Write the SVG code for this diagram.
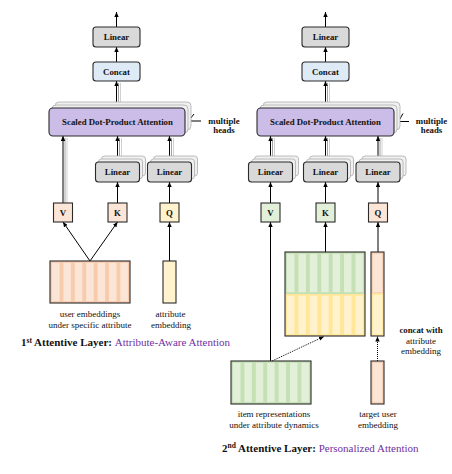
<svg xmlns="http://www.w3.org/2000/svg" width="452" height="474" viewBox="0 0 452 474" font-family="'Liberation Serif', 'Times New Roman', 'DejaVu Serif', serif">
<defs>
<marker id="ah" markerUnits="userSpaceOnUse" markerWidth="5" markerHeight="4.4" viewBox="0 0 5 4.4" refX="5" refY="2.2" orient="auto"><path d="M0,0 L5,2.2 L0,4.4 z" fill="#000"/></marker>
<style>
text{font-family:'Liberation Serif','Times New Roman','DejaVu Serif',serif;fill:#111}
.b{font-weight:bold;font-size:8.8px;text-anchor:middle}
.s{font-size:9px;text-anchor:middle}
.cap{font-size:11px;font-weight:bold}
.pur{fill:#7030a0;font-weight:normal}
.box{stroke:#2b2b2b;stroke-width:1.1}
.lin{fill:#d9d9d9}
.con{fill:#deebf7}
.att{fill:#cbbde8}
.sh{fill:#f0f0f0;stroke:#adadad;stroke-width:0.8}
.peach{fill:#fbe5d6}
.yel{fill:#fff2cc}
.grn{fill:#e2f0d9}
.c{stroke:#000;stroke-width:1;fill:none}
.g1{stroke:#8a8a8a;stroke-width:0.8;fill:none}
.g2{stroke:#c4c4c4;stroke-width:0.8;fill:none}
.dot{stroke:#000;stroke-width:1;stroke-dasharray:1 1;fill:none}
.cp{fill:#fbe5d6;stroke:#f8cbad;stroke-width:1.6}
.cg{fill:#e2f0d9;stroke:#c5e0b4;stroke-width:1.6}
.cy{fill:#fff2cc;stroke:#ffe699;stroke-width:1.6}
.out{fill:none;stroke:#2b2b2b;stroke-width:1.1}
</style>
</defs>

<!-- ===== connectors ===== -->
<g id="connectors">
<!-- left panel -->
<line class="c" x1="116.5" y1="27" x2="116.5" y2="12" marker-end="url(#ah)"/>
<line class="c" x1="116.5" y1="62" x2="116.5" y2="47" marker-end="url(#ah)"/>
<line class="g2" x1="120.5" y1="102" x2="120.5" y2="83"/>
<line class="g1" x1="118.5" y1="105" x2="118.5" y2="83"/>
<line class="c" x1="116.5" y1="108" x2="116.5" y2="81" marker-end="url(#ah)"/>
<line class="g2" x1="67" y1="203" x2="67" y2="138"/>
<line class="g1" x1="65" y1="203" x2="65" y2="138"/>
<line class="c" x1="63" y1="203" x2="63" y2="136" marker-end="url(#ah)"/>
<line class="g2" x1="121.5" y1="156" x2="121.5" y2="138"/>
<line class="g1" x1="119.5" y1="159" x2="119.5" y2="138"/>
<line class="c" x1="117.5" y1="162" x2="117.5" y2="136" marker-end="url(#ah)"/>
<line class="g2" x1="173.5" y1="156" x2="173.5" y2="138"/>
<line class="g1" x1="171.5" y1="159" x2="171.5" y2="138"/>
<line class="c" x1="169.5" y1="162" x2="169.5" y2="136" marker-end="url(#ah)"/>
<line class="c" x1="117.5" y1="203" x2="117.5" y2="182" marker-end="url(#ah)"/>
<line class="c" x1="169.5" y1="203" x2="169.5" y2="182" marker-end="url(#ah)"/>
<line class="c" x1="90" y1="261" x2="63" y2="222" marker-end="url(#ah)"/>
<line class="c" x1="90" y1="261" x2="117.5" y2="222" marker-end="url(#ah)"/>
<line class="c" x1="169.5" y1="261" x2="169.5" y2="222" marker-end="url(#ah)"/>
<!-- multiple heads indicator left -->
<polyline class="c" points="180.5,125.5 182.5,128.5 194,114"/>
<line class="c" x1="187" y1="121" x2="201" y2="121"/>

<!-- right panel -->
<line class="c" x1="325.5" y1="27" x2="325.5" y2="12" marker-end="url(#ah)"/>
<line class="c" x1="325.5" y1="62" x2="325.5" y2="47" marker-end="url(#ah)"/>
<line class="g2" x1="329.5" y1="102" x2="329.5" y2="83"/>
<line class="g1" x1="327.5" y1="105" x2="327.5" y2="83"/>
<line class="c" x1="325.5" y1="108" x2="325.5" y2="81" marker-end="url(#ah)"/>
<line class="g2" x1="274.5" y1="156" x2="274.5" y2="138"/>
<line class="g1" x1="272.5" y1="159" x2="272.5" y2="138"/>
<line class="c" x1="270.5" y1="162" x2="270.5" y2="136" marker-end="url(#ah)"/>
<line class="g2" x1="329.5" y1="156" x2="329.5" y2="138"/>
<line class="g1" x1="327.5" y1="159" x2="327.5" y2="138"/>
<line class="c" x1="325.5" y1="162" x2="325.5" y2="136" marker-end="url(#ah)"/>
<line class="g2" x1="382" y1="156" x2="382" y2="138"/>
<line class="g1" x1="380" y1="159" x2="380" y2="138"/>
<line class="c" x1="378" y1="162" x2="378" y2="136" marker-end="url(#ah)"/>
<line class="c" x1="270.5" y1="203" x2="270.5" y2="182" marker-end="url(#ah)"/>
<line class="c" x1="325.5" y1="203" x2="325.5" y2="182" marker-end="url(#ah)"/>
<line class="c" x1="378" y1="203" x2="378" y2="182" marker-end="url(#ah)"/>
<line class="c" x1="270.5" y1="361" x2="270.5" y2="222" marker-end="url(#ah)"/>
<line class="c" x1="325.5" y1="252" x2="325.5" y2="222" marker-end="url(#ah)"/>
<line class="c" x1="378" y1="252" x2="378" y2="222" marker-end="url(#ah)"/>
<line class="dot" x1="272" y1="361" x2="324" y2="336.5" marker-end="url(#ah)"/>
<line class="dot" x1="377.5" y1="361" x2="377.5" y2="336.5" marker-end="url(#ah)"/>
<!-- multiple heads indicator right -->
<polyline class="c" points="392.5,125.5 394.5,128.5 403,113.5"/>
<line class="c" x1="397" y1="121.5" x2="409" y2="121.5"/>
</g>

<!-- ===== left panel nodes ===== -->
<g id="L-linear-top">
<rect class="box lin" x="93" y="27" width="47" height="20" rx="3"/>
<text class="b" x="116.5" y="40">Linear</text>
</g>
<g id="L-concat">
<rect class="box con" x="93" y="62" width="47" height="19" rx="3"/>
<text class="b" x="116.5" y="74.5">Concat</text>
</g>
<g id="L-attention">
<rect class="sh" x="55" y="102" width="136" height="28" rx="4"/>
<rect class="sh" x="52" y="105" width="136" height="28" rx="4"/>
<rect class="box att" x="49" y="108" width="136" height="28" rx="4"/>
<text class="b" x="117.5" y="125">Scaled Dot-Product Attention</text>
</g>
<g id="L-heads-label">
<text class="b" x="224" y="124">multiple</text>
<text class="b" x="224" y="133">heads</text>
</g>
<g id="L-linear-k">
<rect class="sh" x="101.5" y="156" width="44" height="20" rx="3"/>
<rect class="sh" x="98.5" y="159" width="44" height="20" rx="3"/>
<rect class="box lin" x="95.5" y="162" width="44" height="20" rx="3"/>
<text class="b" x="117.5" y="175">Linear</text>
</g>
<g id="L-linear-q">
<rect class="sh" x="153.5" y="156" width="44" height="20" rx="3"/>
<rect class="sh" x="150.5" y="159" width="44" height="20" rx="3"/>
<rect class="box lin" x="147.5" y="162" width="44" height="20" rx="3"/>
<text class="b" x="169.5" y="175">Linear</text>
</g>
<g id="L-V">
<rect class="box peach" x="53.5" y="203" width="19" height="19"/>
<text class="b" x="63" y="215.5">V</text>
</g>
<g id="L-K">
<rect class="box peach" x="108" y="203" width="19" height="19"/>
<text class="b" x="117.5" y="215.5">K</text>
</g>
<g id="L-Q">
<rect class="box yel" x="160" y="203" width="19" height="19"/>
<text class="b" x="169.5" y="215.5">Q</text>
</g>
<g id="L-user-emb">
<rect x="50" y="261" width="80" height="42" fill="#f8cbad"/>
<rect class="cp" x="51.2" y="262" width="9.1" height="40"/>
<rect class="cp" x="62.6" y="262" width="9.1" height="40"/>
<rect class="cp" x="74" y="262" width="9.1" height="40"/>
<rect class="cp" x="85.4" y="262" width="9.1" height="40"/>
<rect class="cp" x="96.8" y="262" width="9.1" height="40"/>
<rect class="cp" x="108.2" y="262" width="9.1" height="40"/>
<rect class="cp" x="119.6" y="262" width="9.1" height="40"/>
<rect class="out" x="50" y="261" width="80" height="42"/>
<text class="s" x="90" y="317">user embeddings</text>
<text class="s" x="90" y="327.5">under specific attribute</text>
</g>
<g id="L-attr-emb">
<rect class="box yel" x="163" y="261" width="13" height="42"/>
<text class="s" x="170.5" y="317">attribute</text>
<text class="s" x="171" y="327.5">embedding</text>
</g>
<g id="L-caption">
<text class="cap" x="21" y="346">1<tspan font-size="7.5" dy="-3.5">st</tspan><tspan dy="3.5"> Attentive Layer: </tspan><tspan class="pur">Attribute-Aware Attention</tspan></text>
</g>

<!-- ===== right panel nodes ===== -->
<g id="R-linear-top">
<rect class="box lin" x="302" y="27" width="47" height="20" rx="3"/>
<text class="b" x="325.5" y="40">Linear</text>
</g>
<g id="R-concat">
<rect class="box con" x="302" y="62" width="47" height="19" rx="3"/>
<text class="b" x="325.5" y="74.5">Concat</text>
</g>
<g id="R-attention">
<rect class="sh" x="263" y="102" width="137" height="28" rx="4"/>
<rect class="sh" x="260" y="105" width="137" height="28" rx="4"/>
<rect class="box att" x="257" y="108" width="137" height="28" rx="4"/>
<text class="b" x="325.5" y="125">Scaled Dot-Product Attention</text>
</g>
<g id="R-heads-label">
<text class="b" x="431.5" y="124">multiple</text>
<text class="b" x="431.5" y="133">heads</text>
</g>
<g id="R-linear-v">
<rect class="sh" x="254.5" y="156" width="44" height="20" rx="3"/>
<rect class="sh" x="251.5" y="159" width="44" height="20" rx="3"/>
<rect class="box lin" x="248.5" y="162" width="44" height="20" rx="3"/>
<text class="b" x="270.5" y="175">Linear</text>
</g>
<g id="R-linear-k">
<rect class="sh" x="309.5" y="156" width="44" height="20" rx="3"/>
<rect class="sh" x="306.5" y="159" width="44" height="20" rx="3"/>
<rect class="box lin" x="303.5" y="162" width="44" height="20" rx="3"/>
<text class="b" x="325.5" y="175">Linear</text>
</g>
<g id="R-linear-q">
<rect class="sh" x="362" y="156" width="44" height="20" rx="3"/>
<rect class="sh" x="359" y="159" width="44" height="20" rx="3"/>
<rect class="box lin" x="356" y="162" width="44" height="20" rx="3"/>
<text class="b" x="378" y="175">Linear</text>
</g>
<g id="R-V">
<rect class="box grn" x="261" y="203" width="19" height="19"/>
<text class="b" x="270.5" y="215.5">V</text>
</g>
<g id="R-K">
<rect class="box grn" x="316" y="203" width="19" height="19"/>
<text class="b" x="325.5" y="215.5">K</text>
</g>
<g id="R-Q">
<rect class="box peach" x="368.5" y="203" width="19" height="19"/>
<text class="b" x="378" y="215.5">Q</text>
</g>
<g id="R-concat-matrix">
<rect x="285" y="252" width="80" height="42" fill="#c5e0b4"/>
<rect x="285" y="294" width="80" height="42" fill="#ffe699"/>
<rect class="cg" x="286.2" y="253" width="9.1" height="40"/>
<rect class="cg" x="297.6" y="253" width="9.1" height="40"/>
<rect class="cg" x="309" y="253" width="9.1" height="40"/>
<rect class="cg" x="320.4" y="253" width="9.1" height="40"/>
<rect class="cg" x="331.8" y="253" width="9.1" height="40"/>
<rect class="cg" x="343.2" y="253" width="9.1" height="40"/>
<rect class="cg" x="354.6" y="253" width="9.1" height="40"/>
<rect class="cy" x="286.2" y="295" width="9.1" height="40"/>
<rect class="cy" x="297.6" y="295" width="9.1" height="40"/>
<rect class="cy" x="309" y="295" width="9.1" height="40"/>
<rect class="cy" x="320.4" y="295" width="9.1" height="40"/>
<rect class="cy" x="331.8" y="295" width="9.1" height="40"/>
<rect class="cy" x="343.2" y="295" width="9.1" height="40"/>
<rect class="cy" x="354.6" y="295" width="9.1" height="40"/>
<rect class="out" x="285" y="252" width="80" height="84"/>
</g>
<g id="R-concat-bar">
<rect class="cp" x="372" y="253" width="11" height="40"/>
<rect class="cy" x="372" y="294" width="11" height="41"/>
<rect class="out" x="371" y="252" width="13" height="84"/>
</g>
<g id="R-concat-label">
<text class="b" x="421" y="333">concat with</text>
<text class="s" x="421" y="344">attribute</text>
<text class="s" x="421" y="354">embedding</text>
</g>
<g id="R-item-matrix">
<rect x="231" y="361" width="80" height="43" fill="#c5e0b4"/>
<rect class="cg" x="232.2" y="362" width="9.1" height="41"/>
<rect class="cg" x="243.6" y="362" width="9.1" height="41"/>
<rect class="cg" x="255" y="362" width="9.1" height="41"/>
<rect class="cg" x="266.4" y="362" width="9.1" height="41"/>
<rect class="cg" x="277.8" y="362" width="9.1" height="41"/>
<rect class="cg" x="289.2" y="362" width="9.1" height="41"/>
<rect class="cg" x="300.6" y="362" width="9.1" height="41"/>
<rect class="out" x="231" y="361" width="80" height="43"/>
<text class="s" x="274" y="417">item representations</text>
<text class="s" x="274" y="427.5">under attribute dynamics</text>
</g>
<g id="R-target-user">
<rect class="cp" x="372" y="362" width="11" height="41"/>
<rect class="out" x="371" y="361" width="13" height="43"/>
<text class="s" x="378" y="417">target user</text>
<text class="s" x="378" y="427.5">embedding</text>
</g>
<g id="R-caption">
<text class="cap" x="222" y="451.5">2<tspan font-size="7.5" dy="-3.5">nd</tspan><tspan dy="3.5"> Attentive Layer: </tspan><tspan class="pur">Personalized Attention</tspan></text>
</g>
</svg>
